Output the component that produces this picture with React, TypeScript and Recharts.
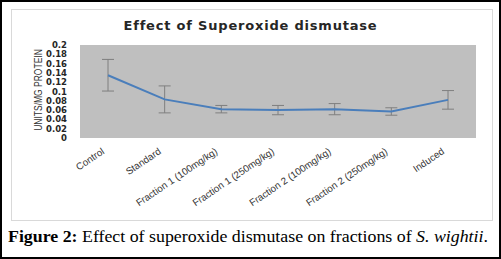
import React from "react";
import { LineChart, Line, XAxis, YAxis, CartesianGrid, ErrorBar } from "recharts";

const groups = [
  "Control",
  "Standard",
  "Fraction 1 (100mg/kg)",
  "Fraction 1 (250mg/kg)",
  "Fraction 2 (100mg/kg)",
  "Fraction 2 (250mg/kg)",
  "Induced",
];
const sodValues = [0.135, 0.083, 0.062, 0.06, 0.062, 0.057, 0.082];
const sodErrors = [0.034, 0.029, 0.008, 0.01, 0.012, 0.008, 0.02];
const yTicks = [0, 0.02, 0.04, 0.06, 0.08, 0.1, 0.12, 0.14, 0.16, 0.18, 0.2];

const data = groups.map((name, i) => ({ name, value: sodValues[i], err: sodErrors[i] }));

const XTick = (props: any) => {
  const { x, y, payload } = props;
  return (
    <g transform={`translate(${x - 3},${y + 15})`}>
      <text
        transform="rotate(-34)"
        textAnchor="end"
        fontSize={9.8}
        fontFamily="'Liberation Sans', Arial, sans-serif"
        fill="#333"
      >
        {payload.value}
      </text>
    </g>
  );
};

export default function App() {
  return (
    <div
      style={{
        position: "absolute",
        left: 0,
        top: 0,
        width: 501,
        height: 259,
        boxSizing: "border-box",
        border: "2px solid #000",
        background: "#fff",
        overflow: "hidden",
      }}
    >
      <div
        style={{
          position: "absolute",
          left: 9,
          top: 7,
          width: 480,
          height: 210,
          border: "1px solid #d9d9d9",
        }}
      />
      <div
        style={{
          position: "absolute",
          left: 0,
          top: 16,
          width: 497,
          textAlign: "center",
          fontFamily: "'DejaVu Sans', Verdana, sans-serif",
          fontWeight: "bold",
          fontSize: 13,
          color: "#262626",
          letterSpacing: 0.8,
        }}
      >
        Effect of Superoxide dismutase
      </div>
      <div
        style={{
          position: "absolute",
          left: 36,
          top: 88,
          transform: "translate(-50%, -50%) rotate(-90deg) scaleX(0.85)",
          whiteSpace: "nowrap",
          fontFamily: "'Liberation Sans', Arial, sans-serif",
          fontSize: 10,
          color: "#333",
        }}
      >
        UNITS/MG PROTEIN
      </div>
      <div style={{ position: "absolute", left: -2, top: -2 }}>
        <LineChart
          width={501}
          height={259}
          data={data}
          margin={{ top: 45, right: 25, bottom: 61, left: 0 }}
        >
          <CartesianGrid fill="#bfbfbf" stroke="#bfbfbf" horizontal={false} vertical={false} />
          <XAxis
            dataKey="name"
            height={60}
            axisLine={false}
            tickLine={false}
            tickSize={0}
            tickMargin={0}
            padding={{ left: 28, right: 28 }}
            interval={0}
            tick={<XTick />}
          />
          <YAxis
            width={80}
            domain={[0, 0.2]}
            ticks={yTicks}
            interval={0}
            axisLine={false}
            tickLine={false}
            tickSize={0}
            tickMargin={13}
            tick={{
              fontSize: 8.5,
              fontWeight: "bold",
              fontFamily: "'DejaVu Sans', Verdana, sans-serif",
              fill: "#262626",
            }}
          />
          <Line
            type="linear"
            dataKey="value"
            stroke="#4a7ebb"
            strokeWidth={2}
            dot={false}
            isAnimationActive={false}
          >
            <ErrorBar dataKey="err" direction="y" width={6} stroke="#7f7f7f" strokeWidth={1} />
          </Line>
        </LineChart>
      </div>
      <div
        style={{
          position: "absolute",
          left: 6,
          top: 226,
          whiteSpace: "nowrap",
          fontFamily: "'Liberation Serif', 'Times New Roman', serif",
          fontSize: 16,
          color: "#000",
          transform: "scaleX(1.115)",
          transformOrigin: "left center",
        }}
      >
        <b>Figure 2:</b> Effect of superoxide dismutase on fractions of <i>S. wightii</i>.
      </div>
    </div>
  );
}
